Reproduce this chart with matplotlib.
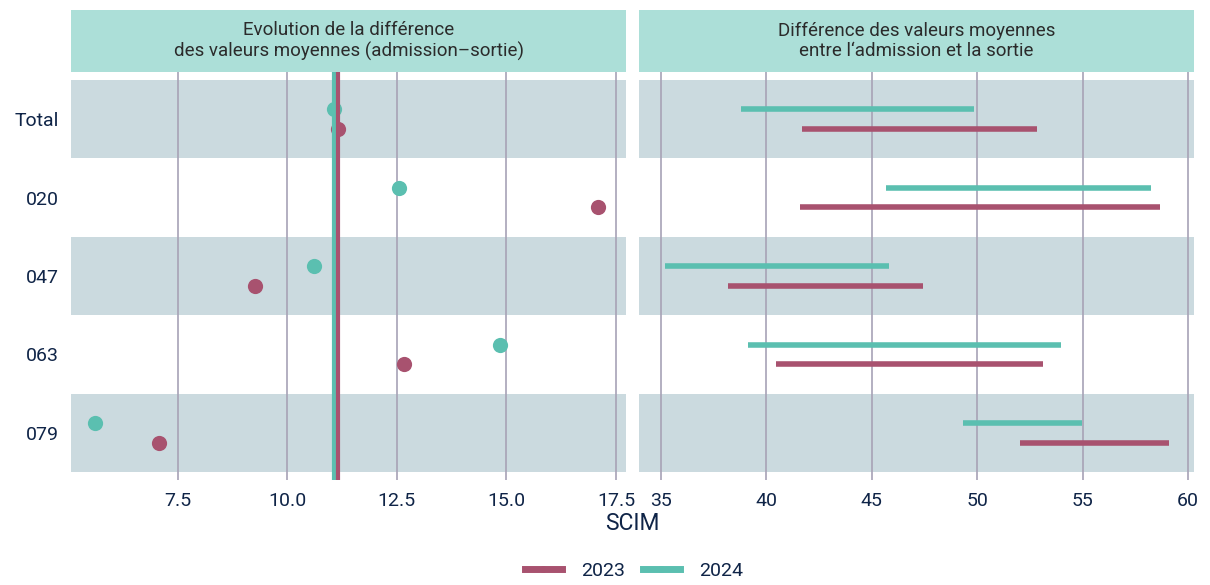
"""Dumbbell-like chart: SCIM admission/sortie differences by site, 2023 vs 2024"""
import matplotlib
matplotlib.use("Agg")
import matplotlib.pyplot as plt
from matplotlib.lines import Line2D

# data
categories = ["Total", "020", "047", "063", "079"]
years = ["2023", "2024"]
admission_2023 = [41.69, 41.60, 38.18, 40.46, 52.04]
sortie_2023 = [52.85, 58.69, 47.45, 53.12, 59.11]
admission_2024 = [38.80, 45.67, 35.19, 39.13, 49.34]
sortie_2024 = [49.87, 58.22, 45.80, 53.99, 54.95]

COL_2023 = "#a8526f"
COL_2024 = "#5bbfb0"
STRIP = "#acdfd8"
BAND = "#cbdadf"
GRID = "#a7a2b6"
TEXT = "#0f2447"

plt.rcParams["font.family"] = ["Roboto", "DejaVu Sans"]

W, H = 1210, 585


def box(x0, y0, x1, y1):
    """pixel box (top-left origin) -> figure fraction rect"""
    return [x0 / W, (H - y1) / H, (x1 - x0) / W, (y1 - y0) / H]


def style_axis(ax, labels):
    ax.set_facecolor("white")
    for s in ax.spines.values():
        s.set_visible(False)
    ax.set_ylim(len(categories) - 0.4, -0.6)
    ax.set_yticks(range(len(categories)))
    ax.set_yticklabels(labels)
    ax.tick_params(axis="both", length=0, labelsize=14, colors=TEXT, pad=9)
    ax.grid(axis="x", color=GRID, linewidth=1.2)
    ax.set_axisbelow(True)
    for i in range(0, len(categories), 2):
        ax.axhspan(i - 0.5, i + 0.5, color=BAND, zorder=0.5, linewidth=0)


def strip(fig, rect, text):
    sax = fig.add_axes(rect)
    sax.set_facecolor(STRIP)
    sax.set_xticks([])
    sax.set_yticks([])
    for s in sax.spines.values():
        s.set_visible(False)
    sax.text(0.5, 0.5, text, ha="center", va="center", fontsize=13.5,
             color="#2b2b2b", linespacing=1.2, transform=sax.transAxes)


def plot():
    fig = plt.figure(figsize=(12.1, 5.85), dpi=100)
    off = 0.125
    ypos = list(range(len(categories)))

    # left panel: difference
    ax1 = fig.add_axes(box(71, 72, 626, 480))
    style_axis(ax1, categories)
    diff_2023 = [s - a for a, s in zip(admission_2023, sortie_2023)]
    diff_2024 = [s - a for a, s in zip(admission_2024, sortie_2024)]
    ax1.scatter(diff_2024, [y - off for y in ypos], s=120, color=COL_2024,
                zorder=3, linewidths=0)
    ax1.scatter(diff_2023, [y + off for y in ypos], s=120, color=COL_2023,
                zorder=3, linewidths=0)
    ax1.axvline(diff_2024[0], color=COL_2024, linewidth=3, zorder=4)
    ax1.axvline(diff_2023[0], color=COL_2023, linewidth=3, zorder=4)
    ax1.set_xlim(5.07, 17.73)
    ax1.set_xticks([7.5, 10.0, 12.5, 15.0, 17.5])
    ax1.set_xticklabels(["7.5", "10.0", "12.5", "15.0", "17.5"])

    # right panel: admission -> sortie segments
    ax2 = fig.add_axes(box(639, 72, 1194, 480))
    style_axis(ax2, [""] * len(categories))
    for i in ypos:
        ax2.plot([admission_2024[i], sortie_2024[i]], [i - off, i - off],
                 color=COL_2024, linewidth=4, solid_capstyle="butt", zorder=3)
        ax2.plot([admission_2023[i], sortie_2023[i]], [i + off, i + off],
                 color=COL_2023, linewidth=4, solid_capstyle="butt", zorder=3)
    ax2.set_xlim(33.96, 60.28)
    ax2.set_xticks([35, 40, 45, 50, 55, 60])

    strip(fig, box(71, 10, 626, 72),
          "Evolution de la différence\ndes valeurs moyennes (admission\u2013sortie)")
    strip(fig, box(639, 10, 1194, 72),
          "Différence des valeurs moyennes\nentre l\u2018admission et la sortie")

    fig.text(632 / W, 1 - 524 / H, "SCIM", ha="center", va="center",
             fontsize=16.5, color=TEXT)

    handles = [
        Line2D([], [], color=COL_2023, linewidth=5, marker="o", markersize=4),
        Line2D([], [], color=COL_2024, linewidth=5, marker="o", markersize=4),
    ]
    fig.legend(handles, years, loc="center", bbox_to_anchor=(634 / W, 1 - 571 / H),
               ncol=2, frameon=False, fontsize=14, handlelength=1.9,
               columnspacing=0.9, handletextpad=1.0, labelcolor=TEXT)

    fig.savefig("out.png", dpi=100)


if __name__ == "__main__":
    plot()
